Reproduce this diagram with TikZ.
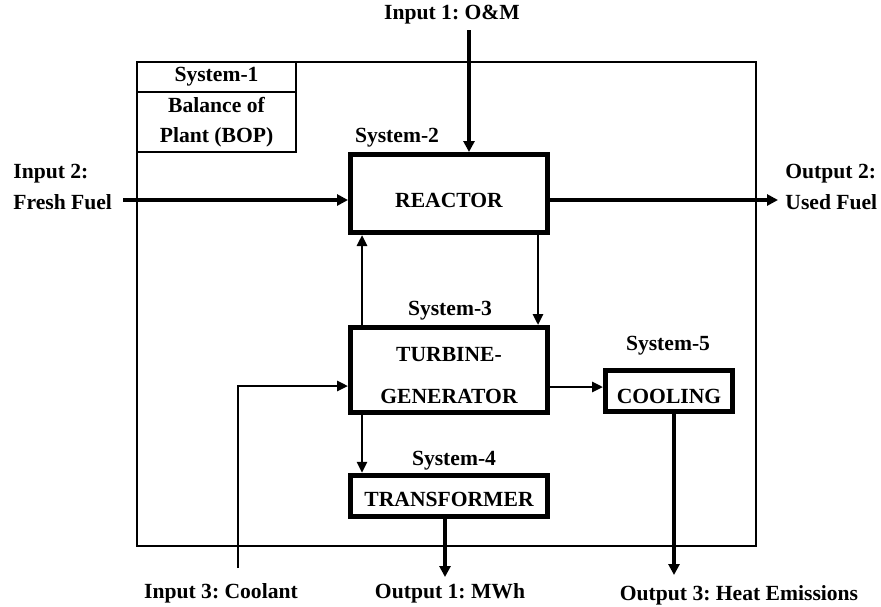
\documentclass[tikz,border=0pt]{standalone}
\usepackage{fontspec}
\setmainfont{Liberation Serif}
\usetikzlibrary{arrows.meta,positioning}
\newcommand{\drop}[2]{\raisebox{-#1}[\height][\depth]{#2}}
\tikzset{
  unit/.style={draw, line width=2.5pt, align=center, inner sep=0pt, minimum width=98.5pt},
  bopbox/.style={draw, line width=1pt, align=center, inner sep=0pt, outer sep=0pt, minimum width=79.5pt},
  tag/.style={inner sep=0pt},
  io/.style={inner sep=0pt, align=left},
  bigarr/.style={-{Triangle[length=5.5pt,width=5.5pt]}, line width=1.7pt},
  arr/.style={-{Triangle[length=5.5pt,width=5pt]}, line width=1.3pt},
  border/.style={line width=1pt},
}
\begin{document}
\frenchspacing
\begin{tikzpicture}[x=0.5pt, y=-0.5pt, font=\fontsize{10.8}{13}\selectfont\bfseries]
  \useasboundingbox (0,0) rectangle (881,606);

  % plant boundary
  \draw[border] (137,62) rectangle (756,546);
  \node[bopbox, minimum height=15pt, anchor=north west] (sys1) at (137,62) {System-1};
  \node[bopbox, minimum height=30pt, below=0pt of sys1] (bop) {Balance of\\[2pt]Plant (BOP)};

  % systems
  \node[unit, minimum height=39pt] (reactor) at (449,193.5) {\drop{3.5pt}{REACTOR}};
  \node[unit, minimum height=42.5pt] (turbine) at (449,370) {\drop{2.8pt}{TURBINE-}\\[8pt]\drop{2.8pt}{GENERATOR}};
  \node[unit, minimum height=20.75pt] (transformer) at (449,496) {\drop{1.5pt}{TRANSFORMER}};
  \node[unit, minimum width=63.5pt, minimum height=20.5pt] (cooling) at (669,391) {\drop{2.5pt}{COOLING}};

  \node[tag] (s2) at (397,138) {System-2};
  \node[tag] (s3) at (450,311) {System-3};
  \node[tag] (s4) at (454,461) {System-4};
  \node[tag] (s5) at (668,346) {System-5};

  % inputs and outputs
  \node[tag] (in1) at (452,15) {Input 1: O\&M};
  \node[io, anchor=west] (in2) at (13,187) {Input 2:\\[2.4pt]Fresh Fuel};
  \node[io, anchor=west] (out2) at (785,187) {Output 2:\\[2.4pt]Used Fuel};
  \node[tag] (in3) at (221,593) {Input 3: Coolant};
  \node[tag] (out1) at (450,593) {Output 1: MWh};
  \node[tag] (out3) at (739,595) {Output 3: Heat Emissions};

  \coordinate (om) at (469,30);
  \coordinate (ff) at (123,200);
  \coordinate (uf) at (778,200);
  \coordinate (mwh) at (445,577);
  \coordinate (heat) at (674,575);
  \coordinate (cool) at (238,568);
  \coordinate (tc) at (0,387);

  \draw[bigarr] (om) -- (om |- reactor.north);
  \draw[bigarr] (ff) -- (ff -| reactor.west);
  \draw[bigarr] (uf -| reactor.east) -- (uf);
  \draw[arr] ([xshift=7pt]turbine.north west) -- ([xshift=7pt]reactor.south west);
  \draw[arr] ([xshift=-6pt]reactor.south east) -- ([xshift=-6pt]turbine.north east);
  \draw[arr] ([xshift=7pt]turbine.south west) -- ([xshift=7pt]transformer.north west);
  \draw[arr] (tc -| turbine.east) -- (tc -| cooling.west);
  \draw[arr] (cool) |- ([yshift=-8pt]turbine.west);
  \draw[bigarr] (mwh |- transformer.south) -- (mwh);
  \draw[bigarr] (heat |- cooling.south) -- (heat);
\end{tikzpicture}
\end{document}
